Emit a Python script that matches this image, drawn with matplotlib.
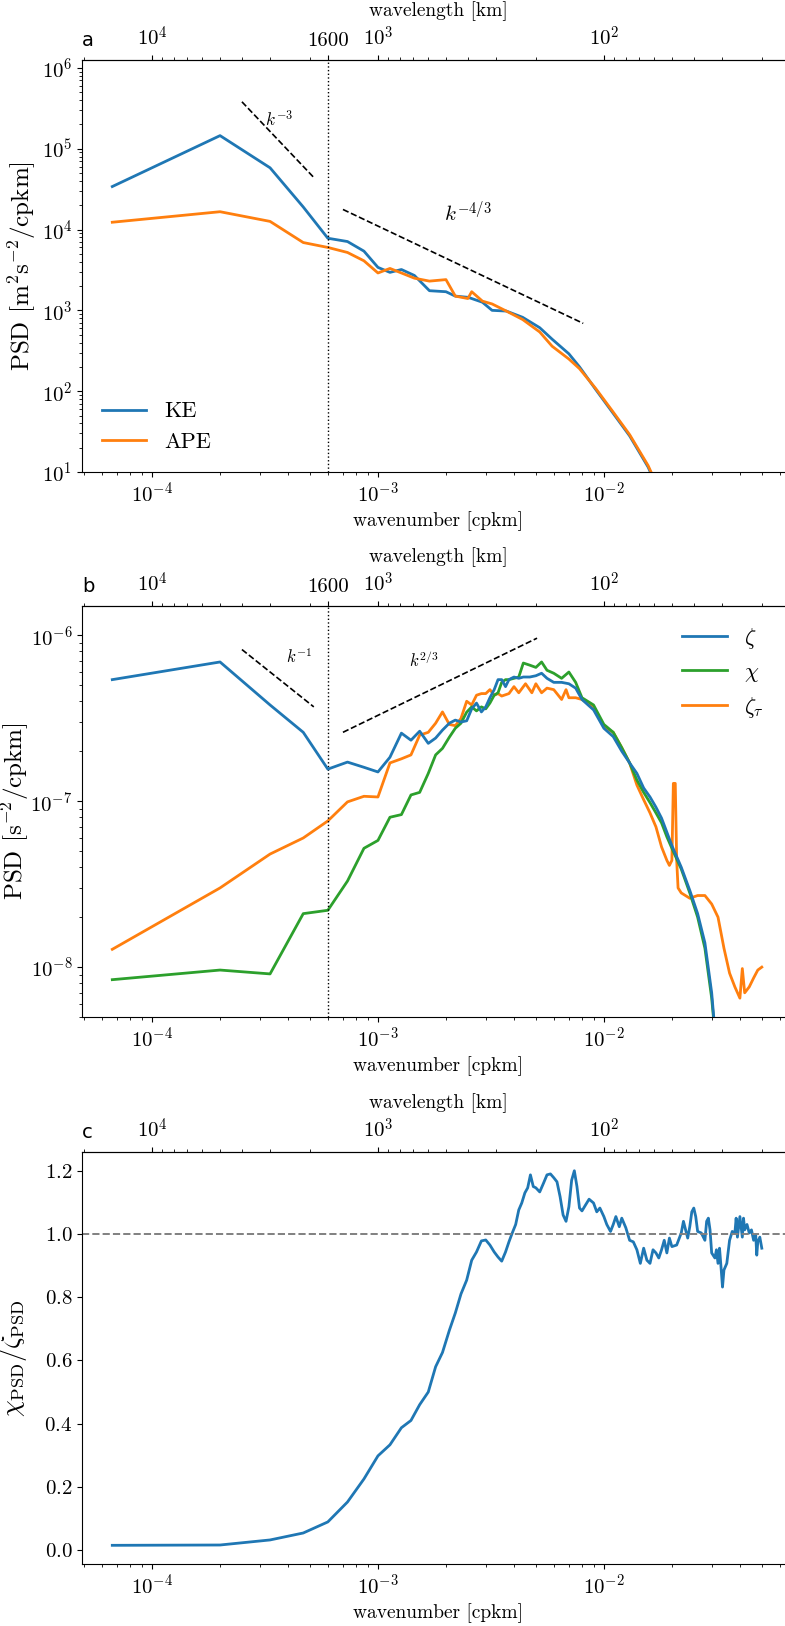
import matplotlib
matplotlib.use('Agg')
import matplotlib.pyplot as plt

plt.rcParams['font.family'] = 'serif'
plt.rcParams['font.serif'] = ['cmr10']
plt.rcParams['mathtext.fontset'] = 'cm'
plt.rcParams['axes.formatter.use_mathtext'] = True
plt.rcParams['font.size'] = 14
plt.rcParams['xtick.labelsize'] = 15
plt.rcParams['ytick.labelsize'] = 15

# panel a: energy spectra
k_a = [6.67e-5, 2.0e-4, 3.33e-4, 4.67e-4, 6.0e-4, 7.33e-4, 8.67e-4, 1.0e-3, 1.13e-3, 1.27e-3,
       1.45e-3, 1.69e-3, 2.0e-3, 2.2e-3, 2.5e-3, 2.6e-3, 2.9e-3, 3.2e-3, 3.7e-3, 4.37e-3,
       5.2e-3, 5.9e-3, 7.0e-3, 7.8e-3, 9.2e-3, 1.09e-2, 1.3e-2, 1.57e-2, 2.0e-2, 3.0e-2, 5.0e-2]
ke = [3.4e4, 1.45e5, 5.8e4, 1.9e4, 7.8e3, 7.1e3, 5.4e3, 3.4e3, 2.95e3, 3.2e3,
      2.7e3, 1.75e3, 1.7e3, 1.5e3, 1.45e3, 1.4e3, 1.26e3, 1.0e3, 9.8e2, 8.2e2,
      6.1e2, 4.4e2, 2.9e2, 2.0e2, 1.05e2, 55, 28, 11.5, 2.5, 0.25, 0.005]
ape = [1.23e4, 1.66e4, 1.26e4, 6.9e3, 6.0e3, 5.2e3, 4.1e3, 2.9e3, 3.3e3, 2.9e3,
       2.5e3, 2.3e3, 2.4e3, 1.5e3, 1.4e3, 1.7e3, 1.3e3, 1.2e3, 9.8e2, 7.7e2,
       5.4e2, 3.6e2, 2.5e2, 1.9e2, 1.08e2, 57, 29, 12, 2.7, 0.3, 0.006]

# panel b: vorticity / divergence spectra
k_b = [6.67e-5, 2e-4, 3.33e-4, 4.67e-4, 6e-4, 7.33e-4, 8.67e-4, 1e-3, 1.13e-3, 1.27e-3,
       1.4e-3, 1.53e-3, 1.67e-3, 1.8e-3, 1.93e-3, 2.07e-3, 2.2e-3, 2.33e-3, 2.47e-3, 2.6e-3,
       2.73e-3, 2.87e-3, 3.0e-3, 3.13e-3, 3.27e-3, 3.4e-3, 3.53e-3, 3.67e-3, 3.8e-3, 4.0e-3,
       4.2e-3, 4.4e-3, 4.7e-3, 5.0e-3, 5.3e-3, 5.6e-3, 6.0e-3, 6.5e-3, 7.0e-3, 7.5e-3,
       8e-3, 9e-3, 1e-2, 1.1e-2, 1.2e-2, 1.3e-2, 1.4e-2, 1.5e-2, 1.6e-2, 1.7e-2,
       1.8e-2, 1.9e-2, 2.0e-2, 2.2e-2, 2.4e-2, 2.6e-2, 2.8e-2, 3.0e-2, 3.2e-2]
zeta = [5.4e-7, 6.9e-7, 3.8e-7, 2.6e-7, 1.56e-7, 1.72e-7, 1.6e-7, 1.5e-7, 1.84e-7, 2.57e-7,
        2.33e-7, 2.64e-7, 2.23e-7, 2.4e-7, 2.68e-7, 2.95e-7, 3.08e-7, 3.0e-7, 3.05e-7, 3.6e-7,
        3.9e-7, 3.45e-7, 3.7e-7, 4.2e-7, 4.7e-7, 5.4e-7, 5.4e-7, 4.9e-7, 5.4e-7, 5.6e-7,
        5.5e-7, 5.6e-7, 5.6e-7, 5.7e-7, 5.9e-7, 5.5e-7, 5.2e-7, 5.2e-7, 5.1e-7, 4.8e-7,
        4.1e-7, 3.55e-7, 2.75e-7, 2.45e-7, 2.0e-7, 1.7e-7, 1.47e-7, 1.2e-7, 1.06e-7, 9.2e-8,
        7.9e-8, 6.5e-8, 5.4e-8, 4.0e-8, 2.9e-8, 2.1e-8, 1.4e-8, 7.0e-9, 2.5e-9]
chi = [8.4e-9, 9.6e-9, 9.1e-9, 2.1e-8, 2.2e-8, 3.3e-8, 5.2e-8, 5.8e-8, 8.0e-8, 8.3e-8,
       1.09e-7, 1.13e-7, 1.47e-7, 1.9e-7, 2.08e-7, 2.43e-7, 2.75e-7, 2.95e-7, 3.44e-7, 3.7e-7,
       3.5e-7, 3.7e-7, 3.6e-7, 3.9e-7, 4.35e-7, 4.5e-7, 5.2e-7, 5.4e-7, 5.4e-7, 5.5e-7,
       5.6e-7, 6.8e-7, 6.6e-7, 6.4e-7, 6.9e-7, 6.15e-7, 5.9e-7, 5.5e-7, 6.0e-7, 5.2e-7,
       4.2e-7, 3.8e-7, 2.9e-7, 2.6e-7, 2.1e-7, 1.7e-7, 1.34e-7, 1.13e-7, 9.8e-8, 8.5e-8,
       7.4e-8, 6.1e-8, 5.2e-8, 3.9e-8, 2.8e-8, 2.0e-8, 1.3e-8, 6.5e-9, 2.5e-9]
k_bt = [6.67e-5, 2e-4, 3.33e-4, 4.67e-4, 6e-4, 7.33e-4, 8.67e-4, 1e-3, 1.13e-3, 1.27e-3,
        1.4e-3, 1.53e-3, 1.67e-3, 1.8e-3, 1.93e-3, 2.07e-3, 2.2e-3, 2.33e-3, 2.47e-3, 2.6e-3,
        2.73e-3, 2.87e-3, 3.0e-3, 3.13e-3, 3.27e-3, 3.4e-3, 3.53e-3, 3.8e-3, 4.0e-3, 4.2e-3,
        4.5e-3, 4.8e-3, 5.0e-3, 5.3e-3, 5.6e-3, 6.0e-3, 6.5e-3, 6.8e-3, 7.0e-3, 7.5e-3,
        8e-3, 9e-3, 1e-2, 1.1e-2, 1.2e-2, 1.3e-2, 1.4e-2, 1.5e-2, 1.6e-2, 1.7e-2,
        1.8e-2, 1.9e-2, 1.95e-2, 2.0e-2, 2.03e-2, 2.07e-2, 2.1e-2, 2.13e-2, 2.2e-2, 2.4e-2,
        2.6e-2, 2.8e-2, 3.0e-2, 3.2e-2, 3.4e-2, 3.6e-2, 3.8e-2, 4.0e-2, 4.1e-2, 4.2e-2,
        4.4e-2, 4.6e-2, 4.8e-2, 5.0e-2]
zeta_tau = [1.28e-8, 3.0e-8, 4.8e-8, 6.0e-8, 7.6e-8, 9.9e-8, 1.07e-7, 1.06e-7, 1.7e-7, 1.8e-7,
            1.9e-7, 2.5e-7, 2.6e-7, 2.95e-7, 3.45e-7, 2.9e-7, 2.85e-7, 3.15e-7, 4.0e-7, 3.8e-7,
            4.35e-7, 4.45e-7, 4.45e-7, 4.7e-7, 4.35e-7, 4.45e-7, 4.3e-7, 4.45e-7, 4.9e-7, 4.5e-7,
            5.1e-7, 4.5e-7, 5.1e-7, 4.5e-7, 4.8e-7, 4.7e-7, 4.1e-7, 4.7e-7, 4.2e-7, 4.2e-7,
            4.1e-7, 3.7e-7, 2.8e-7, 2.6e-7, 2.1e-7, 1.7e-7, 1.25e-7, 1.02e-7, 8.5e-8, 7.0e-8,
            5.3e-8, 4.4e-8, 4.1e-8, 4.4e-8, 1.28e-7, 1.28e-7, 4.4e-8, 3.0e-8, 2.8e-8, 2.6e-8,
            2.7e-8, 2.7e-8, 2.4e-8, 2.0e-8, 1.3e-8, 9.2e-9, 7.6e-9, 6.5e-9, 9.8e-9, 7.0e-9,
            7.6e-9, 8.6e-9, 9.6e-9, 1.0e-8]

# panel c: ratio
k_c = [6.67e-5, 2e-4, 3.33e-4, 4.67e-4, 6e-4, 7.33e-4, 8.67e-4, 1e-3, 1.13e-3, 1.27e-3,
       1.4e-3, 1.53e-3, 1.67e-3, 1.8e-3, 1.93e-3, 2.07e-3, 2.2e-3, 2.33e-3, 2.47e-3, 2.6e-3,
       2.73e-3, 2.87e-3, 3.0e-3, 3.13e-3, 3.27e-3, 3.4e-3, 3.53e-3, 3.67e-3, 3.8e-3, 3.93e-3,
       4.07e-3, 4.2e-3, 4.33e-3, 4.47e-3, 4.6e-3, 4.73e-3, 4.87e-3, 5.0e-3, 5.2e-3, 5.4e-3,
       5.6e-3, 5.8e-3, 6.0e-3, 6.2e-3, 6.4e-3, 6.6e-3, 6.8e-3, 7.0e-3, 7.2e-3, 7.4e-3,
       7.6e-3, 7.8e-3, 8.0e-3, 8.3e-3, 8.6e-3, 9.0e-3, 9.3e-3, 9.6e-3, 1.0e-2, 1.03e-2,
       1.07e-2, 1.1e-2, 1.13e-2, 1.17e-2, 1.2e-2, 1.25e-2, 1.3e-2, 1.35e-2, 1.4e-2, 1.45e-2,
       1.5e-2, 1.55e-2, 1.6e-2, 1.65e-2, 1.7e-2, 1.75e-2, 1.8e-2, 1.85e-2, 1.9e-2, 1.95e-2,
       2.0e-2, 2.1e-2, 2.2e-2, 2.25e-2, 2.3e-2, 2.35e-2, 2.4e-2, 2.45e-2, 2.5e-2, 2.55e-2,
       2.6e-2, 2.7e-2, 2.8e-2, 2.85e-2, 2.9e-2, 2.95e-2, 3.0e-2, 3.1e-2, 3.15e-2, 3.2e-2,
       3.25e-2, 3.3e-2, 3.35e-2, 3.4e-2, 3.5e-2, 3.6e-2, 3.7e-2, 3.8e-2, 3.85e-2, 3.9e-2,
       4.0e-2, 4.1e-2, 4.15e-2, 4.2e-2, 4.3e-2, 4.4e-2, 4.5e-2, 4.6e-2, 4.7e-2, 4.75e-2,
       4.8e-2, 4.9e-2, 5.0e-2]
ratio = [0.015, 0.016, 0.032, 0.054, 0.089, 0.152, 0.225, 0.298, 0.333, 0.387,
         0.41, 0.46, 0.50, 0.58, 0.625, 0.695, 0.75, 0.81, 0.854, 0.917,
         0.943, 0.978, 0.981, 0.965, 0.943, 0.927, 0.914, 0.943, 0.975, 1.003,
         1.03, 1.076, 1.098, 1.13, 1.146, 1.187, 1.15, 1.146, 1.133, 1.16,
         1.187, 1.19, 1.178, 1.165, 1.118, 1.06, 1.04, 1.086, 1.17, 1.2,
         1.15, 1.082, 1.073, 1.092, 1.11, 1.098, 1.07, 1.082, 1.055, 1.03,
         1.008, 1.03, 1.055, 1.023, 1.05, 1.02, 0.98, 0.975, 0.95, 0.907,
         0.955, 0.917, 0.907, 0.95, 0.94, 0.924, 0.95, 0.98, 0.94, 0.987,
         0.96, 0.965, 1.003, 1.04, 1.013, 0.987, 1.023, 1.07, 1.082, 1.055,
         1.008, 1.003, 0.98, 1.04, 1.05, 1.013, 0.94, 0.924, 0.95, 0.907,
         0.955, 0.895, 0.832, 0.886, 0.907, 0.98, 1.008, 1.003, 1.05, 0.99,
         1.055, 0.99, 1.05, 1.013, 1.03, 1.003, 1.013, 0.98, 0.997, 0.933,
         0.975, 0.99, 0.955]

# scale separation drawn at the 5th wavenumber, labelled 1600 km
k_cut = 6.0e-4
xlim = (4.9e-5, 0.07)
blue, orange, green = 'tab:blue', 'tab:orange', 'tab:green'


def inv(x):
    return 1 / x


def add_top(ax, with_cut=True):
    sec = ax.secondary_xaxis('top', functions=(inv, inv))
    if with_cut:
        sec.set_xticks([1e4, 1 / k_cut, 1e3, 1e2], [r'$10^4$', '1600', r'$10^3$', r'$10^2$'])
    else:
        sec.set_xticks([1e4, 1e3, 1e2], [r'$10^4$', r'$10^3$', r'$10^2$'])
    sec.set_xlabel('wavelength [km]', fontsize=14, labelpad=7)
    return sec


def panel_label(ax, s):
    ax.text(0, 1.025, s, transform=ax.transAxes, fontsize=14, family='DejaVu Sans',
            ha='left', va='bottom')


fig = plt.figure(figsize=(7.85, 16.26), dpi=100)
ax_a = fig.add_axes([0.1045, 0.7097, 0.908, 0.2534])
ax_b = fig.add_axes([0.1045, 0.3745, 0.908, 0.2528])
ax_c = fig.add_axes([0.1045, 0.0381, 0.908, 0.2534])

# a
ax_a.loglog(k_a, ke, color=blue, lw=2, label='KE')
ax_a.loglog(k_a, ape, color=orange, lw=2, label='APE')
ax_a.axvline(k_cut, color='k', ls=':', lw=1)
ax_a.plot([2.5e-4, 5.2e-4], [3.8e5, 4.4e4], 'k--', lw=1.2)
ax_a.plot([7.0e-4, 8.1e-3], [1.77e4, 6.9e2], 'k--', lw=1.2)
ax_a.text(3.65e-4, 2.3e5, r'$k^{-3}$', fontsize=12.5, ha='center', va='center')
ax_a.text(2.5e-3, 1.6e4, r'$k^{-4/3}$', fontsize=15, ha='center', va='center')
ax_a.set_xlim(xlim)
ax_a.set_ylim(10, 1.25e6)
ax_a.set_xlabel('wavenumber [cpkm]', fontsize=14)
ax_a.set_ylabel(r'PSD [m$^2$s$^{-2}$/cpkm]', fontsize=18)
ax_a.yaxis.set_label_coords(-0.062, 0.5)
ax_a.legend(loc='lower left', frameon=False, fontsize=16)
add_top(ax_a)
panel_label(ax_a, 'a')

# b
ax_b.loglog(k_b, zeta, color=blue, lw=2, label=r'$\zeta$', zorder=3)
ax_b.loglog(k_b, chi, color=green, lw=2, label=r'$\chi$', zorder=2)
ax_b.loglog(k_bt, zeta_tau, color=orange, lw=2, label=r'$\zeta_\tau$', zorder=1)
ax_b.axvline(k_cut, color='k', ls=':', lw=1)
ax_b.plot([2.5e-4, 5.2e-4], [8.2e-7, 3.7e-7], 'k--', lw=1.2)
ax_b.plot([7.0e-4, 5.06e-3], [2.6e-7, 9.6e-7], 'k--', lw=1.2)
ax_b.text(4.5e-4, 7.4e-7, r'$k^{-1}$', fontsize=12, ha='center', va='center')
ax_b.text(1.6e-3, 7.1e-7, r'$k^{2/3}$', fontsize=12, ha='center', va='center')
ax_b.set_xlim(xlim)
ax_b.set_ylim(5e-9, 1.5e-6)
ax_b.set_xlabel('wavenumber [cpkm]', fontsize=14)
ax_b.set_ylabel(r'PSD [s$^{-2}$/cpkm]', fontsize=18)
ax_b.yaxis.set_label_coords(-0.071, 0.5)
ax_b.legend(loc='upper right', frameon=False, fontsize=16,
            bbox_to_anchor=(0.985, 1.0))
add_top(ax_b)
panel_label(ax_b, 'b')

# c
ax_c.semilogx(k_c, ratio, color=blue, lw=2)
ax_c.axhline(1.0, color='gray', ls='--', lw=1.4)
ax_c.set_xlim(xlim)
ax_c.set_xlabel('wavenumber [cpkm]', fontsize=14)
ax_c.set_ylabel(r'$\chi_{\mathrm{PSD}}/\zeta_{\mathrm{PSD}}$', fontsize=19)
ax_c.yaxis.set_label_coords(-0.074, 0.5)
add_top(ax_c, with_cut=False)
panel_label(ax_c, 'c')

fig.savefig('out.png', dpi=100)
